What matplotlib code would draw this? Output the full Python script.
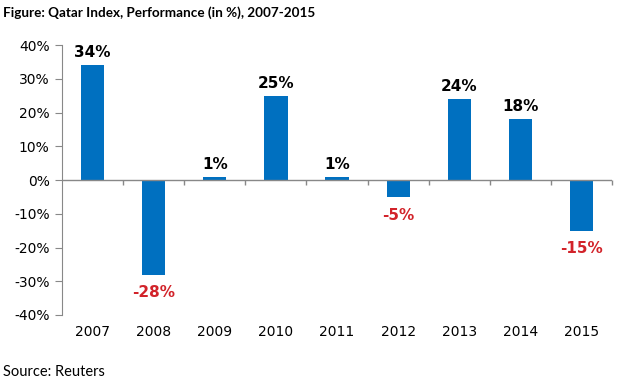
import matplotlib
matplotlib.use("Agg")
import matplotlib.pyplot as plt
from matplotlib.ticker import FuncFormatter

years = ["2007", "2008", "2009", "2010", "2011", "2012", "2013", "2014", "2015"]
values = [34, -28, 1, 25, 1, -5, 24, 18, -15]
yticks = [-40, -30, -20, -10, 0, 10, 20, 30, 40]

fig = plt.figure(figsize=(6.22, 3.82), dpi=100)
ax = fig.add_axes([0.0997, 0.1754, 0.8843, 0.7066])

x = list(range(len(years)))
ax.bar(x, values, width=0.38, color="#0070C0", zorder=2)
ax.set_xlim(-0.5, len(years) - 0.5)
ax.set_ylim(-40, 40)
ax.axhline(0, color="#888888", lw=1, zorder=3)
bounds = [i + 0.5 for i in x]
ax.vlines(bounds, -1.5, 0, color="#888888", lw=1, zorder=3, clip_on=False)

for xi, v in zip(x, values):
    if v >= 0:
        ax.text(xi, v + 1.5, f"{v}%", ha="center", va="bottom", fontsize=11,
                fontweight="bold", color="black", family="DejaVu Sans")
    else:
        ax.text(xi, v - 3.2, f"{v}%", ha="center", va="top", fontsize=11,
                fontweight="bold", color="#D2232A", family="DejaVu Sans")

ax.set_yticks(yticks)
ax.yaxis.set_major_formatter(FuncFormatter(lambda v, p: f"{int(v)}%"))
ax.set_xticks(x)
ax.set_xticklabels(years)
for s in ["top", "right", "bottom"]:
    ax.spines[s].set_visible(False)
ax.spines["left"].set_color("#888888")
ax.tick_params(axis="y", length=5, color="#888888", labelsize=10, pad=4)
ax.tick_params(axis="x", length=0, labelsize=10, pad=7)

fig.text(0.005, 0.966, "Figure: Qatar Index, Performance (in %), 2007-2015",
         fontsize=9.7, fontweight="bold", family="Lato", va="center", ha="left")
fig.text(0.005, 0.025, "Source: Reuters", fontsize=10.5, family="Lato",
         va="center", ha="left")

fig.savefig("out.png", dpi=100)
